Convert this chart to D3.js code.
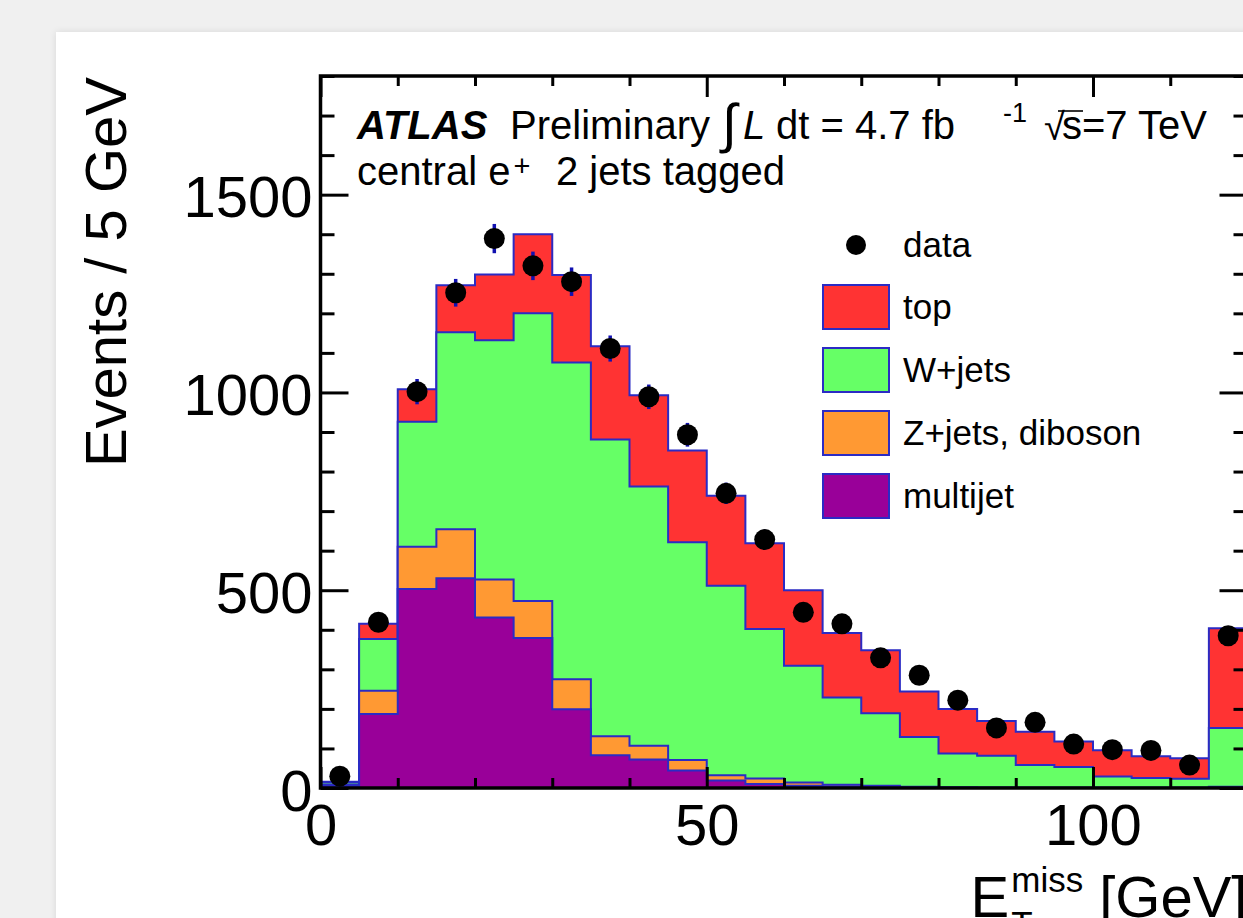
<!DOCTYPE html>
<html>
<head>
<meta charset="utf-8">
<script src="https://cdn.jsdelivr.net/npm/d3@7"></script>
<style>
  html, body { margin: 0; padding: 0; width: 1243px; height: 918px; overflow: hidden; background: #f0f0f0; }
  #card { position: absolute; left: 56px; top: 32px; width: 1400px; height: 1100px; background: #fff;
          box-shadow: 0 0 7px rgba(0,0,0,0.10); }
  svg { position: absolute; left: 0; top: 0; }
  text { font-family: "Liberation Sans", Arial, Helvetica, sans-serif; fill: #000; }
</style>
</head>
<body>
<div id="card"></div>
<svg id="chart" width="1243" height="918"></svg>
<script>
// E_T^miss distribution, 5 GeV bins from 0 to 120 GeV
const binLow = [0, 5, 10, 15, 20, 25, 30, 35, 40, 45, 50, 55, 60, 65, 70, 75, 80, 85, 90, 95, 100, 105, 110, 115];
const binWidth = 5;

// Background / signal expectations per bin (stacked bottom to top)
const multijet = [5, 187, 503, 530, 431, 379, 199, 83, 72, 44, 19, 10, 6, 4, 2, 1, 0.5, 0.4, 0.3, 0.3, 0.2, 0.2, 0.2, 1];
const zjets    = [3, 59, 107, 124, 96, 94, 76, 48, 35, 27, 13, 14, 8, 4, 4, 2, 1.5, 1, 1, 1, 1, 1, 1, 2];
const wjets    = [6, 131, 316, 498, 605, 727, 801, 750, 655, 550, 479, 378, 295, 221, 183, 126, 85, 80, 57, 52, 28, 24, 22, 149];
const topQuark = [2, 38, 82, 119, 166, 200, 221, 236, 231, 232, 228, 217, 191, 163, 159, 115, 113, 88, 84, 64, 66, 55, 52, 252];

// Observed events and their statistical uncertainties
const dataCounts = [30, 419, 1002, 1252, 1389, 1320, 1280, 1111, 989, 893, 745, 628, 444, 415, 329, 285, 222, 152, 166, 111, 97, 95, 58, 385];
const dataErrors = [5, 20, 32, 35, 37, 36, 36, 33, 31, 30, 27, 25, 21, 20, 18, 17, 15, 12, 13, 11, 10, 10, 8, 20];

// Axis ticks
const xMajorTicks = [0, 50, 100];
const xMinorTicks = [10, 20, 30, 40, 60, 70, 80, 90, 110, 120];
const yMajorTicks = [0, 500, 1000, 1500];
const yMinorTicks = [100, 200, 300, 400, 600, 700, 800, 900, 1100, 1200, 1300, 1400, 1600, 1700, 1800];

const legendLabels = ["data", "top", "W+jets", "Z+jets, diboson", "multijet"];

const colors = { top: "#ff3333", wjets: "#66ff66", zjets: "#ff9933", multijet: "#990099" };
const outline = "#2b2bc4";
const errColor = "#1010b0";

const svg = d3.select("#chart");
const frame = { left: 320.5, right: 1247.5, top: 76, bottom: 788 };
const x = d3.scaleLinear().domain([0, 120]).range([frame.left, frame.right]);
const y = d3.scaleLinear().domain([0, 1800]).range([frame.bottom, frame.top]);

svg.append("clipPath").attr("id", "plotClip")
  .append("rect")
  .attr("x", frame.left).attr("y", frame.top)
  .attr("width", frame.right - frame.left).attr("height", frame.bottom - frame.top);

// Stacked histograms
const rows = binLow.map((lo, i) => ({
  lo, multijet: multijet[i], zjets: zjets[i], wjets: wjets[i], top: topQuark[i]
}));
const stacked = d3.stack().keys(["multijet", "zjets", "wjets", "top"])(rows);

const area = d3.area()
  .x(d => x(d.x))
  .y0(y(0))
  .y1(d => y(d.v));
const steps = s => s.flatMap(d => [{ x: d.data.lo, v: d[1] }, { x: d.data.lo + binWidth, v: d[1] }]);

const plot = svg.append("g").attr("clip-path", "url(#plotClip)");
plot.selectAll("path.layer")
  .data(stacked.slice().reverse())
  .join("path")
  .attr("class", "layer")
  .attr("d", s => area(steps(s)))
  .attr("fill", s => colors[s.key])
  .attr("stroke", outline)
  .attr("stroke-width", 2)
  .attr("stroke-linejoin", "miter");

// Axes: ticks point into the frame
function styleAxis(g) {
  g.select(".domain").remove();
  g.selectAll(".tick line").attr("stroke", "#000").attr("stroke-width", 3);
  g.selectAll(".tick text").attr("font-size", 58).attr("font-family", "Liberation Sans, Arial, sans-serif");
}

svg.append("g").attr("transform", `translate(${frame.left},0)`)
  .call(d3.axisLeft(y).tickValues(yMinorTicks).tickSize(-14).tickFormat(""))
  .call(styleAxis);
svg.append("g").attr("transform", `translate(${frame.left},0)`)
  .call(d3.axisLeft(y).tickValues(yMajorTicks).tickSize(-28).tickPadding(8).tickFormat(d3.format("d")))
  .call(styleAxis)
  .call(g => g.selectAll(".tick text").attr("dy", "0.38em"));

svg.append("g").attr("transform", `translate(${frame.right},0)`)
  .call(d3.axisRight(y).tickValues(yMinorTicks).tickSize(-14).tickFormat(""))
  .call(styleAxis);
svg.append("g").attr("transform", `translate(${frame.right},0)`)
  .call(d3.axisRight(y).tickValues(yMajorTicks).tickSize(-28).tickFormat(""))
  .call(styleAxis);

svg.append("g").attr("transform", `translate(0,${frame.bottom})`)
  .call(d3.axisBottom(x).tickValues(xMinorTicks).tickSize(-10).tickFormat(""))
  .call(styleAxis);
svg.append("g").attr("transform", `translate(0,${frame.bottom})`)
  .call(d3.axisBottom(x).tickValues(xMajorTicks).tickSize(-21).tickPadding(16).tickFormat(d3.format("d")))
  .call(styleAxis);

svg.append("g").attr("transform", `translate(0,${frame.top})`)
  .call(d3.axisTop(x).tickValues(xMinorTicks).tickSize(-10).tickFormat(""))
  .call(styleAxis);
svg.append("g").attr("transform", `translate(0,${frame.top})`)
  .call(d3.axisTop(x).tickValues(xMajorTicks).tickSize(-21).tickFormat(""))
  .call(styleAxis);

// Frame
svg.append("rect")
  .attr("x", frame.left).attr("y", frame.top)
  .attr("width", frame.right - frame.left).attr("height", frame.bottom - frame.top)
  .attr("fill", "none").attr("stroke", "#000").attr("stroke-width", 3.5);

// Data points with error bars
const pts = svg.append("g");
pts.selectAll("line.err")
  .data(dataCounts)
  .join("line")
  .attr("class", "err")
  .attr("x1", (d, i) => x(binLow[i] + binWidth / 2))
  .attr("x2", (d, i) => x(binLow[i] + binWidth / 2))
  .attr("y1", (d, i) => y(d - dataErrors[i]))
  .attr("y2", (d, i) => y(d + dataErrors[i]))
  .attr("stroke", errColor).attr("stroke-width", 3.5);
pts.selectAll("circle.pt")
  .data(dataCounts)
  .join("circle")
  .attr("class", "pt")
  .attr("cx", (d, i) => x(binLow[i] + binWidth / 2))
  .attr("cy", d => y(d))
  .attr("r", 10.5)
  .attr("fill", "#000");

// Axis titles
svg.append("text")
  .attr("transform", "translate(126,77) rotate(-90)")
  .attr("text-anchor", "end")
  .attr("font-size", 58)
  .text("Events / 5 GeV");

const xt = svg.append("g");
const unit = xt.append("text").attr("x", frame.right).attr("y", 917)
  .attr("text-anchor", "end").attr("font-size", 58).text("[GeV]");
const unitStart = frame.right - unit.node().getComputedTextLength();
const miss = xt.append("text").attr("x", unitStart - 16).attr("y", 892)
  .attr("text-anchor", "end").attr("font-size", 35).text("miss");
const missStart = unitStart - 16 - miss.node().getComputedTextLength();
xt.append("text").attr("x", missStart).attr("y", 936).attr("font-size", 35).text("T");
xt.append("text").attr("x", missStart - 2).attr("y", 917)
  .attr("text-anchor", "end").attr("font-size", 58).text("E");

// Header text
const hdr = svg.append("g").attr("font-size", 40);
hdr.append("text").attr("x", 357).attr("y", 139)
  .attr("font-weight", "bold").attr("font-style", "italic").text("ATLAS");
hdr.append("text").attr("x", 510).attr("y", 139).text("Preliminary");
hdr.append("text").attr("x", 722).attr("y", 142).attr("font-size", 54).text("\u222B");
hdr.append("text").attr("x", 743).attr("y", 139).attr("font-style", "italic").text("L");
hdr.append("text").attr("x", 776).attr("y", 139).text("dt = 4.7 fb");
hdr.append("text").attr("x", 1003).attr("y", 122).attr("font-size", 27).text("-1");
hdr.append("text").attr("x", 1044).attr("y", 140).attr("font-size", 38).text("\u221A");
const sq = hdr.append("text").attr("x", 1062).attr("y", 139).text("s");
const sw = sq.node().getComputedTextLength();
hdr.append("line").attr("x1", 1058).attr("x2", 1062 + sw + 1).attr("y1", 111).attr("y2", 111)
  .attr("stroke", "#000").attr("stroke-width", 1.6);
hdr.append("text").attr("x", 1062 + sw).attr("y", 139).text("=7 TeV");

const line2 = hdr.append("text").attr("x", 357).attr("y", 185).text("central e");
const l2w = line2.node().getComputedTextLength();
hdr.append("text").attr("x", 357 + l2w + 3).attr("y", 176).attr("font-size", 29).text("+");
hdr.append("text").attr("x", 556).attr("y", 185).text("2 jets tagged");

// Legend
const legend = svg.append("g").attr("font-size", 35);
const legY = [245, 307, 370, 433, 496];
const legKeys = [null, "top", "wjets", "zjets", "multijet"];
legendLabels.forEach((lab, i) => {
  if (i === 0) {
    legend.append("circle").attr("cx", 856).attr("cy", legY[i]).attr("r", 10).attr("fill", "#000");
  } else {
    legend.append("rect").attr("x", 823).attr("y", legY[i] - 22).attr("width", 66).attr("height", 44)
      .attr("fill", colors[legKeys[i]]).attr("stroke", outline).attr("stroke-width", 2);
  }
  legend.append("text").attr("x", 903).attr("y", legY[i] + 12).text(lab);
});
</script>
</body>
</html>
